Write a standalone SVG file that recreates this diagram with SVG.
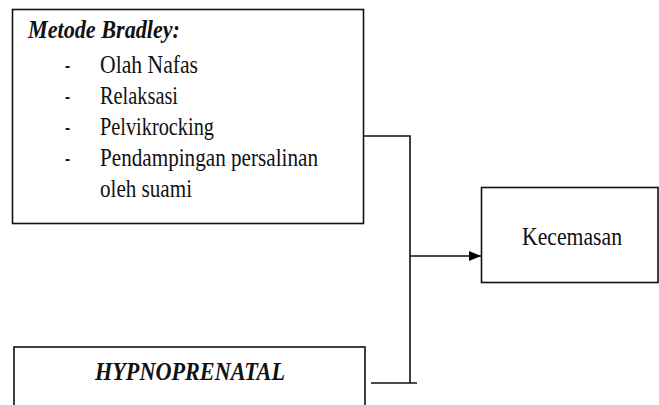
<svg xmlns="http://www.w3.org/2000/svg" width="659" height="405" viewBox="0 0 659 405">
<defs>
<marker id="arr" markerWidth="12" markerHeight="10" refX="12" refY="5" orient="auto" markerUnits="userSpaceOnUse">
<path d="M0,0 L12,5 L0,10 Z" fill="#000"/>
</marker>
<style>
.box{fill:#fff;stroke:#111;stroke-width:1.6}
.t{font-family:"Liberation Serif","Times New Roman",serif;font-size:25px;fill:#111}
.i{font-style:italic}
.b{font-weight:bold}
.ln{fill:none;stroke:#111;stroke-width:1.6}
</style>
</defs>
<rect width="659" height="405" fill="#fff"/>
<g id="bradley">
<rect class="box" x="12.5" y="9.5" width="351" height="214"/>
<text class="t i b" x="28" y="38" textLength="152" lengthAdjust="spacingAndGlyphs">Metode Bradley:</text>
<text class="t" x="65" y="73" textLength="5" lengthAdjust="spacingAndGlyphs">-</text>
<text class="t" x="100" y="73" textLength="98" lengthAdjust="spacingAndGlyphs">Olah Nafas</text>
<text class="t" x="65" y="104" textLength="5" lengthAdjust="spacingAndGlyphs">-</text>
<text class="t" x="100" y="104" textLength="78" lengthAdjust="spacingAndGlyphs">Relaksasi</text>
<text class="t" x="65" y="135" textLength="5" lengthAdjust="spacingAndGlyphs">-</text>
<text class="t" x="100" y="135" textLength="114" lengthAdjust="spacingAndGlyphs">Pelvikrocking</text>
<text class="t" x="65" y="166" textLength="5" lengthAdjust="spacingAndGlyphs">-</text>
<text class="t" x="100" y="166" textLength="218" lengthAdjust="spacingAndGlyphs">Pendampingan persalinan</text>
<text class="t" x="100" y="197" textLength="92" lengthAdjust="spacingAndGlyphs">oleh suami</text>
</g>
<g id="hypnoprenatal">
<rect class="box" x="14" y="347" width="351" height="70"/>
<text class="t i b" x="95" y="380" textLength="190" lengthAdjust="spacingAndGlyphs">HYPNOPRENATAL</text>
</g>
<g id="kecemasan">
<rect class="box" x="481.5" y="187.5" width="176.5" height="95"/>
<text class="t" x="522" y="245" textLength="100" lengthAdjust="spacingAndGlyphs">Kecemasan</text>
</g>
<g id="connectors">
<polyline class="ln" points="364,136 410,136 410,383"/>
<line class="ln" x1="371" y1="383" x2="417" y2="383"/>
<line class="ln" x1="410" y1="256" x2="481" y2="256" marker-end="url(#arr)"/>
</g>
</svg>
